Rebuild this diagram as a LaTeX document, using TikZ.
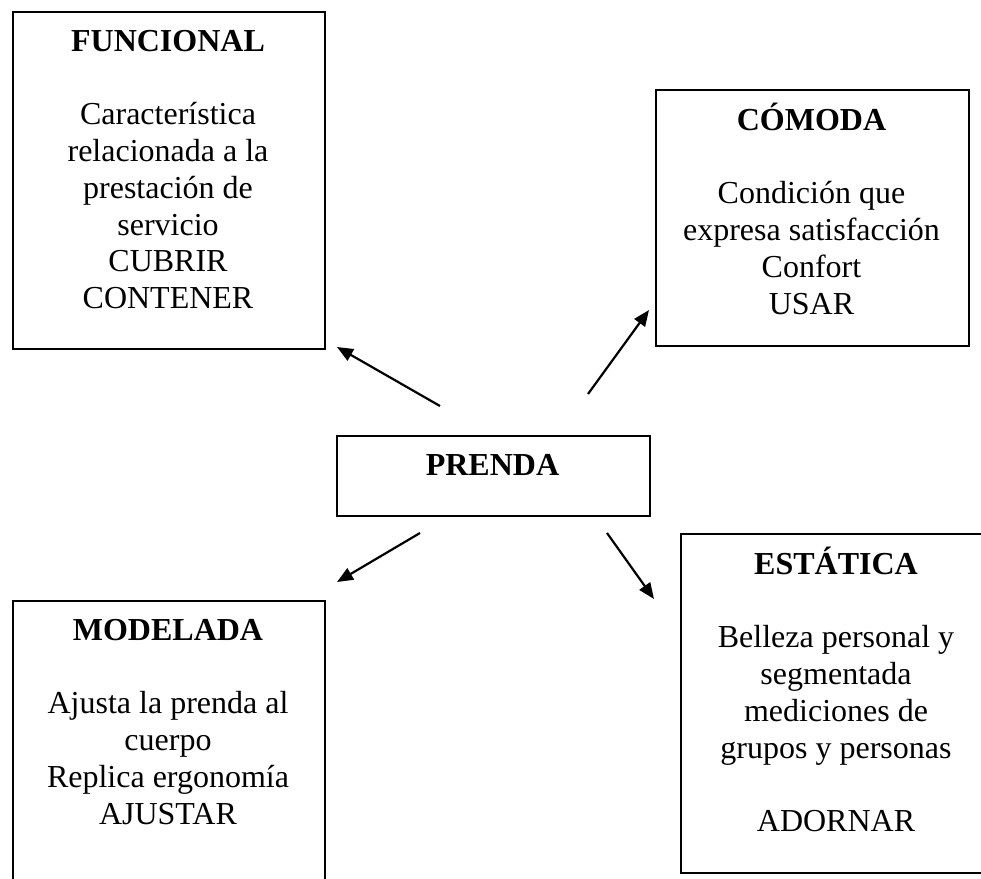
\documentclass[tikz,border=0pt]{standalone}
\usepackage{fontspec}
\setmainfont{Liberation Serif}
\usetikzlibrary{arrows.meta}

\begin{document}
\begin{tikzpicture}[
    x=1pt, y=-1pt,
    >={Triangle[length=16pt,width=13pt]},
    font=\fontsize{32}{36.8}\selectfont,
    caja/.style={
		rectangle,
		draw=black,
		line width=1.8pt,
		inner sep=0pt,
		anchor=north west
	},
	texto/.style={
		anchor=base,
		inner sep=0pt
	},
	flecha/.style={
		->,
		line width=2.2pt
	}
  ]
  \useasboundingbox (0,0) rectangle (981,878);
  \clip (0,0) rectangle (981,878);

    % We start by placing the boxes
  \node [caja, minimum width=312pt, minimum height=337pt] (funcional) at (12,11) {};
  \node [caja, minimum width=313pt, minimum height=256pt] (comoda) at (655,89) {};
  \node [caja, minimum width=313pt, minimum height=80pt] (prenda) at (336,435) {};
  \node [caja, minimum width=312pt, minimum height=300pt] (modelada) at (12,600) {};
  \node [caja, minimum width=312pt, minimum height=339pt] (estatica) at (680,533) {};

    % texts
  \node [texto] (funcional-txt) at (168,51)
 {%
 \begin{tabular}[t]{@{}c@{}}
  \textbf{FUNCIONAL}\\
  \\
  Característica\\
  relacionada a la\\
  prestación de\\
  servicio\\
  CUBRIR\\
  CONTENER
 \end{tabular}
 };

  \node [texto] (comoda-txt) at (811.5,130)
 {%
 \begin{tabular}[t]{@{}c@{}}
  \textbf{CÓMODA}\\
  \\
  Condición que\\
  expresa satisfacción\\
  Confort\\
  USAR
 \end{tabular}
 };

  \node [texto] (prenda-txt) at (492.5,475) {\textbf{PRENDA}};

  \node [texto] (modelada-txt) at (168,640)
 {%
 \begin{tabular}[t]{@{}c@{}}
  \textbf{MODELADA}\\
  \\
  Ajusta la prenda al\\
  cuerpo\\
  Replica ergonomía\\
  AJUSTAR
 \end{tabular}
 };

  \node [texto] (estatica-txt) at (836,574)
 {%
 \begin{tabular}[t]{@{}c@{}}
  \textbf{ESTÁTICA}\\
  \\
  Belleza personal y\\
  segmentada\\
  mediciones de\\
  grupos y personas\\
  \\
  ADORNAR
 \end{tabular}
 };

    % arrow ends
  \coordinate (sal-funcional) at (440,406);
  \coordinate (lleg-funcional) at (337,347);
  \coordinate (sal-comoda) at (588,394);
  \coordinate (lleg-comoda) at (649,310);
  \coordinate (sal-modelada) at (420,533);
  \coordinate (lleg-modelada) at (337,582);
  \coordinate (sal-estatica) at (607,533);
  \coordinate (lleg-estatica) at (654,599);

 \draw [flecha] (sal-funcional) -- (lleg-funcional);
 \draw [flecha] (sal-comoda) -- (lleg-comoda);
 \draw [flecha] (sal-modelada) -- (lleg-modelada);
 \draw [flecha] (sal-estatica) -- (lleg-estatica);

\end{tikzpicture}
\end{document}
